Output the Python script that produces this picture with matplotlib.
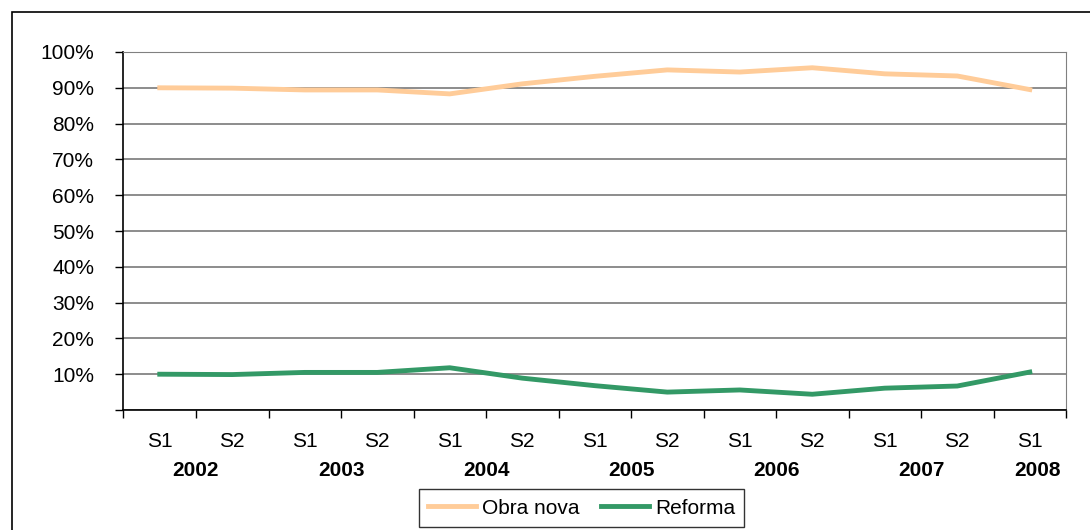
import matplotlib.pyplot as plt
import matplotlib.transforms as mtransforms
from matplotlib.patches import Rectangle

# data
halves = ['S1', 'S2', 'S1', 'S2', 'S1', 'S2', 'S1', 'S2', 'S1', 'S2', 'S1', 'S2', 'S1']
years = ['2002', '2003', '2004', '2005', '2006', '2007', '2008']
obra_nova = [90.0, 89.9, 89.4, 89.4, 88.3, 91.1, 93.2, 95.0, 94.4, 95.6, 93.9, 93.3, 89.5]
reforma = [10.0, 9.9, 10.5, 10.5, 11.8, 8.9, 6.8, 5.0, 5.6, 4.4, 6.1, 6.7, 10.6]

plt.rcParams['font.family'] = ['Liberation Sans', 'DejaVu Sans']

fig = plt.figure(figsize=(10.9, 5.3), dpi=100)
ax = fig.add_axes([0.1133, 0.2264, 0.978 - 0.1133, 0.9019 - 0.2264])

x = list(range(len(halves)))
ax.plot(x, obra_nova, color='#FFCC99', linewidth=3.5, label='Obra nova', zorder=3)
ax.plot(x, reforma, color='#339966', linewidth=3.5, label='Reforma', zorder=3)

ax.set_xlim(-0.5, len(halves) - 0.5)
ax.set_ylim(0, 100)

# y axis
ax.set_yticks(range(0, 101, 10))
ax.set_yticklabels([''] + ['%d%%' % v for v in range(10, 101, 10)], fontsize=15)
ax.yaxis.grid(True, color='#6e6e6e', linewidth=1.1)
ax.set_axisbelow(True)
ax.tick_params(axis='y', direction='out', length=6, width=1, pad=15)

# x axis: ticks at category boundaries
ax.set_xticks([i - 0.5 for i in range(len(halves) + 1)])
ax.set_xticklabels([])
ax.tick_params(axis='x', direction='out', length=6, width=1)

trans = mtransforms.blended_transform_factory(ax.transData, ax.transAxes)
for i, h in enumerate(halves):
    ax.text(i, -0.0885, h, transform=trans, ha='center', va='center', fontsize=15)
year_pos = [0.5, 2.5, 4.5, 6.5, 8.5, 10.5, 12.1]
for xp, yr in zip(year_pos, years):
    ax.text(xp, -0.1676, yr, transform=trans, ha='center', va='center',
            fontsize=15, fontweight='bold')

for s in ['top', 'right']:
    ax.spines[s].set_color('#808080')
for s in ['left', 'bottom']:
    ax.spines[s].set_color('black')
    ax.spines[s].set_linewidth(1.2)

leg = fig.legend(loc='center', bbox_to_anchor=(0.5335, 0.0415), ncol=2,
                 fontsize=15, frameon=True, fancybox=False, edgecolor='black',
                 handlelength=2.3, handletextpad=0.3, columnspacing=1.0,
                 borderpad=0.45, borderaxespad=0)
leg.get_frame().set_linewidth(1)

# outer chart frame
fig.patches.append(Rectangle((12 / 1090, -0.1), 1.2, 1 - 12 / 530 + 0.1,
                             transform=fig.transFigure, fill=False,
                             edgecolor='black', linewidth=1.2, clip_on=False))

fig.savefig('out.png', dpi=100)
